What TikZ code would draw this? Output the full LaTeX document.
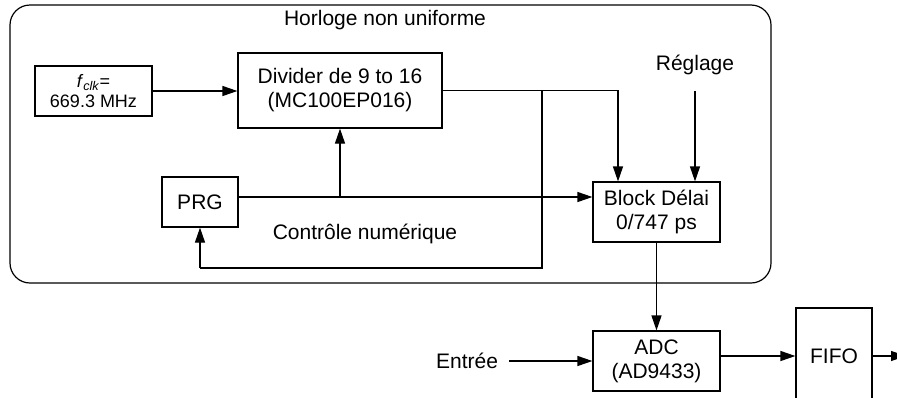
\documentclass[tikz,border=0pt]{standalone}
\usepackage{fontspec}
\setmainfont{Liberation Sans}
\usetikzlibrary{arrows.meta}
\begin{document}
\begin{tikzpicture}[x=1pt,y=-1pt,
  box/.style={draw,line width=1.2pt,inner sep=0pt,align=center,font=\fontsize{21}{24}\selectfont},
  lbl/.style={inner sep=0pt,font=\fontsize{21}{24}\selectfont},
  arr/.style={line width=1.2pt,-{Triangle[length=15pt,width=10pt]}},
  ln/.style={line width=1.2pt}]
\clip (0,0) rectangle (897,397);
\draw[line width=1.2pt,rounded corners=20pt] (10,5) rectangle (771,283);
\node[lbl] (title) at (385,20) {Horloge non uniforme};
\node[box,minimum width=117pt,minimum height=50pt,font=\fontsize{18}{20}\selectfont] (fclk) at (93.5,91) {\textit{f}\textsubscript{\textit{clk}}=\\669.3 MHz};
\node[box,minimum width=204pt,minimum height=75pt] (div) at (340,90.5) {Divider de 9 to 16\\(MC100EP016)};
\node[box,minimum width=76pt,minimum height=50pt] (prg) at (200,202) {PRG};
\node[box,minimum width=127pt,minimum height=60pt] (blk) at (656.5,212) {Block Délai\\0/747 ps};
\node[box,minimum width=127pt,minimum height=60pt] (adc) at (656.5,361) {ADC\\(AD9433)};
\node[box,minimum width=76pt,minimum height=96pt] (fifo) at (834,356) {FIFO};
\node[lbl] (reg) at (695,65) {Réglage};
\node[lbl] (ctl) at (365,234) {Contrôle numérique};
\node[lbl] (ent) at (467,361) {Entrée};
\coordinate (tap) at (542,90.5);
\coordinate (ct) at (618,90.5);
\coordinate (loop) at (542,268);
\coordinate (regs) at (695,91);
\coordinate (ents) at (509,361);
\coordinate (out) at (906,356);
% connections
\draw[arr] (fclk.east) -- (fclk.east -| div.west);
\draw[arr] (div.east) -- (ct) -- (ct |- blk.north);
\draw[ln] (tap) -- (loop) -- (loop -| prg.south);
\draw[arr] (loop -| prg.south) -- (prg.south);
\draw[arr] ([yshift=5pt]prg.east) -- ([yshift=5pt]prg.east -| blk.west);
\draw[arr] ([yshift=5pt]prg.east -| div.south) -- (div.south);
\draw[arr] (regs) -- (regs |- blk.north);
\draw[arr] (blk.south) -- (adc.north);
\draw[arr] (ents) -- (adc.west);
\draw[arr] ([yshift=5pt]adc.east) -- ([yshift=5pt]adc.east -| fifo.west);
\draw[arr] (fifo.east |- out) -- (out);
\end{tikzpicture}
\end{document}
